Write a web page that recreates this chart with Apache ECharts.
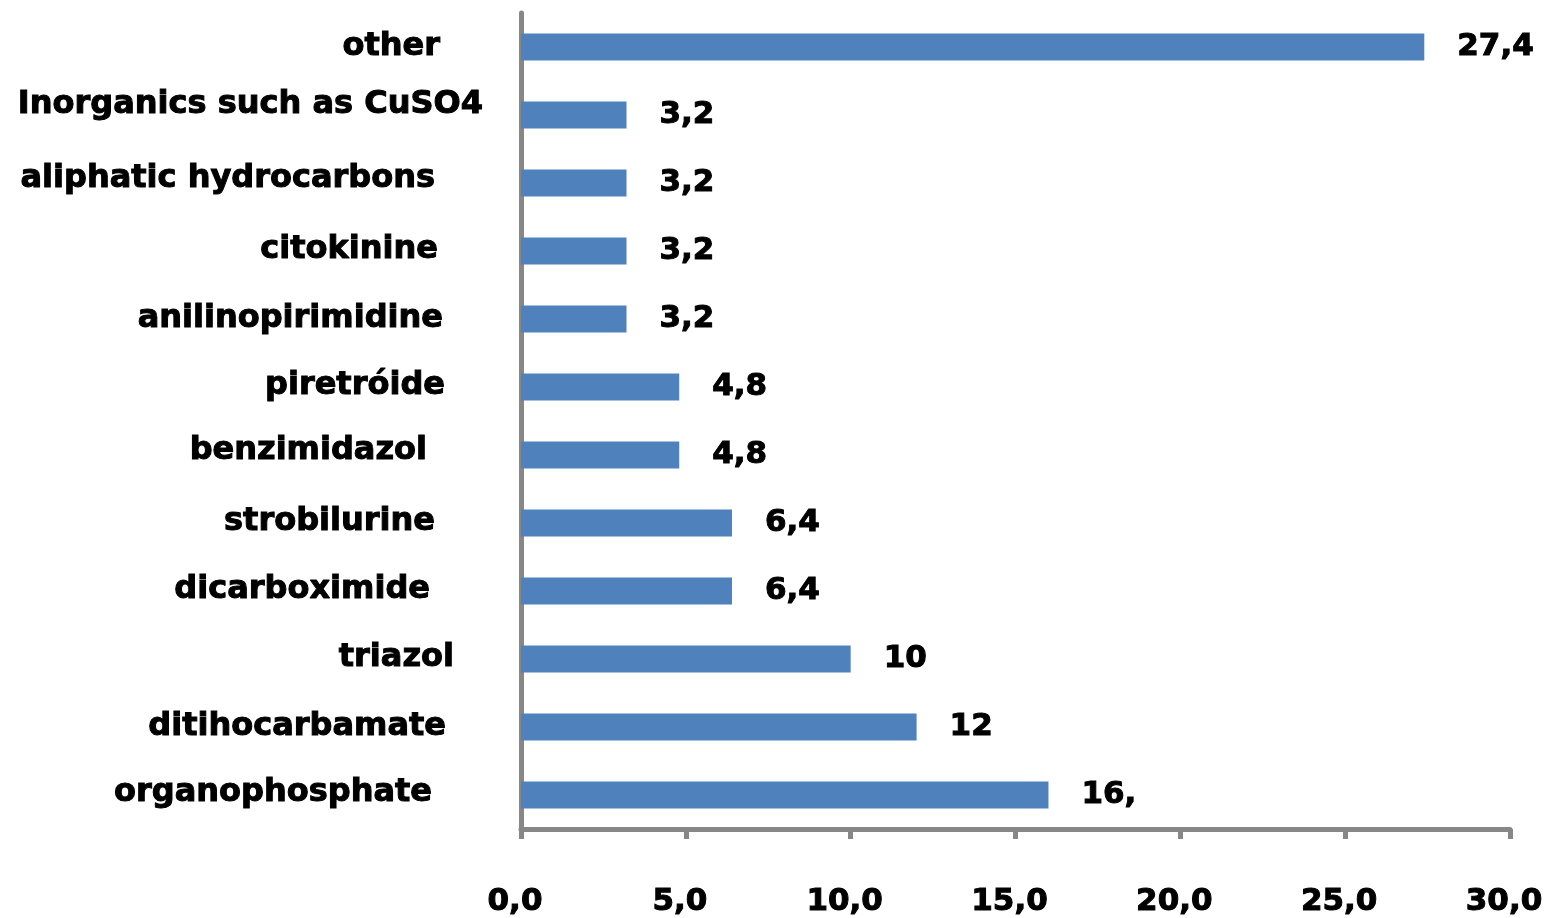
<!DOCTYPE html>
<html>
<head>
<meta charset="utf-8">
<title>Active substance groups</title>
<script src="https://cdn.jsdelivr.net/npm/echarts@6/dist/echarts.min.js"></script>
<style>
  html, body { margin: 0; padding: 0; background: #ffffff; }
  #chart { width: 1551px; height: 918px; }
</style>
</head>
<body>
<div id="chart"></div>
<script>
// Categories listed top to bottom
const categories = [
  'other',
  'Inorganics such as CuSO4',
  'aliphatic hydrocarbons',
  'citokinine',
  'anilinopirimidine',
  'piretróide',
  'benzimidazol',
  'strobilurine',
  'dicarboximide',
  'triazol',
  'ditihocarbamate',
  'organophosphate'
];

// Share of each group (%)
const values = [27.4, 3.2, 3.2, 3.2, 3.2, 4.8, 4.8, 6.4, 6.4, 10, 12, 16];

// Value labels as printed next to the bars
const valueLabels = ['27,4', '3,2', '3,2', '3,2', '3,2', '4,8', '4,8', '6,4', '6,4', '10', '12', '16,'];

// X axis range and step
const xMin = 0;
const xMax = 30;
const xStep = 5;

// Extra right-hand spacing of each category label (px), and vertical nudge
const labelInset = [43, 0, 48, 45, 40, 38, 56, 48, 53, 29, 37, 51];
const labelLift = [0, 20, 8, 2, 0, 2, 8, 2, 2, 2, 0, 4];

const FONT = 'DejaVu Sans';
const AXIS_GRAY = '#878787';
const BAR_BLUE = '#4F81BD';

// Shared heavy text style
const textStyle = {
  fontFamily: FONT,
  fontWeight: 'bold',
  fontSize: 31,
  color: '#000',
  textBorderColor: '#000',
  textBorderWidth: 1
};

const rich = {};
labelInset.forEach((inset, i) => {
  rich['c' + i] = Object.assign({}, textStyle, {
    fontSize: 32,
    padding: [0, inset, labelLift[i], 0]
  });
});

const chart = echarts.init(document.getElementById('chart'), null, { renderer: 'canvas' });

chart.setOption({
  animation: false,
  backgroundColor: '#ffffff',
  grid: {
    left: 521,
    right: 41,
    top: 13,
    bottom: 89,
    containLabel: false,
    outerBoundsMode: 'none'
  },
  xAxis: {
    type: 'value',
    min: xMin,
    max: xMax,
    interval: xStep,
    splitLine: { show: false },
    axisLine: { show: true, lineStyle: { color: AXIS_GRAY, width: 5 } },
    axisTick: { show: true, length: 10, lineStyle: { color: AXIS_GRAY, width: 5 } },
    axisLabel: Object.assign({}, textStyle, {
      margin: 57,
      padding: [0, 12, 0, 0],
      formatter: v => v.toFixed(1).replace('.', ',')
    })
  },
  yAxis: {
    type: 'category',
    inverse: true,
    data: categories,
    axisLine: { show: true, lineStyle: { color: AXIS_GRAY, width: 5 } },
    axisTick: { show: false },
    axisLabel: {
      margin: 38,
      interval: 0,
      formatter: (name, i) => '{c' + i + '|' + name + '}',
      rich: rich
    }
  },
  series: [{
    type: 'bar',
    data: values,
    barWidth: 27,
    itemStyle: { color: BAR_BLUE },
    label: Object.assign({}, textStyle, {
      show: true,
      position: 'right',
      distance: 33,
      formatter: p => valueLabels[p.dataIndex]
    })
  }]
});
</script>
</body>
</html>
